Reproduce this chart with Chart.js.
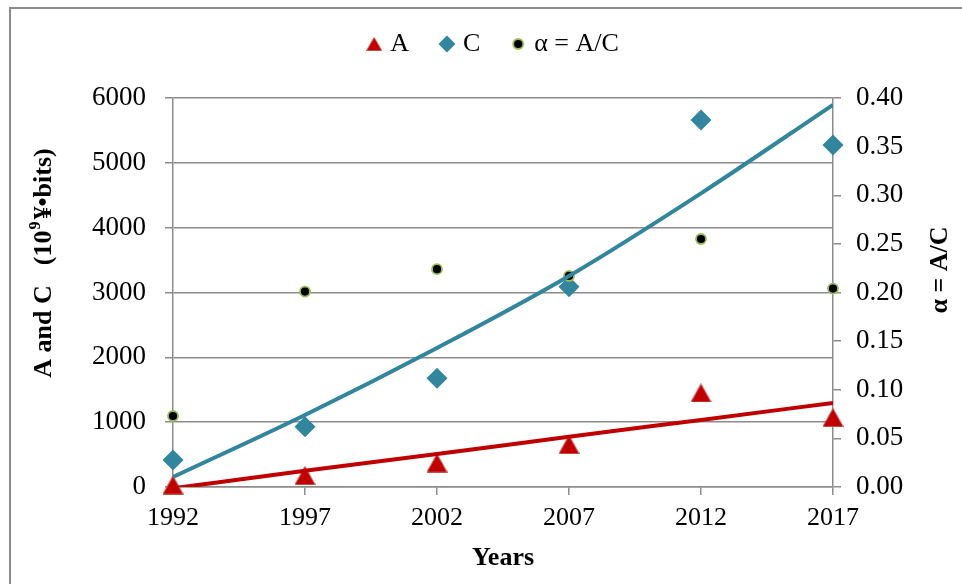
<!DOCTYPE html>
<html>
<head>
<meta charset="utf-8">
<script src="https://cdn.jsdelivr.net/npm/chart.js@4/dist/chart.umd.min.js"></script>
<style>
  html, body { margin: 0; padding: 0; background: #fff; overflow: hidden; }
  canvas { display: block; }
</style>
</head>
<body>
<canvas id="c" width="962" height="584"></canvas>
<script>
// ---- data ----
const years = [1992, 1997, 2002, 2007, 2012, 2017];
const valuesA = [30, 177, 370, 655, 1450, 1072];
const valuesC = [416, 930, 1676, 3090, 5661, 5275];
const valuesAlpha = [0.073, 0.201, 0.224, 0.217, 0.255, 0.204];
const trendA = [-20, 250, 509, 775, 1035, 1296];
const trendC = [154, 1111, 2144, 3255, 4530, 5895];
const leftTicks = [0, 1000, 2000, 3000, 4000, 5000, 6000];
const rightTicks = [0, 0.05, 0.10, 0.15, 0.20, 0.25, 0.30, 0.35, 0.40];
const legendLabels = ['A', 'C', 'α = A/C'];
const xTitle = 'Years';
const leftTitleParts = ['A and C', '(10', '9', '¥•bits)'];
const rightTitle = 'α = A/C';

const RED = '#C00000', TEAL = '#31859C', GRID = '#8c8c8c', DOTRING = '#9BBB59';
const FONT = 'Liberation Serif';

const pts = (arr) => years.map((y, i) => ({ x: y, y: arr[i] }));

function triangleImage(w, h) {
  const c = document.createElement('canvas');
  c.width = w; c.height = h;
  const g = c.getContext('2d');
  g.fillStyle = RED; g.strokeStyle = '#C0504D'; g.lineWidth = 1;
  g.beginPath();
  g.moveTo(w / 2, 0.5); g.lineTo(w - 0.5, h - 0.5); g.lineTo(0.5, h - 0.5); g.closePath();
  g.fill(); g.stroke();
  return c;
}
function marker(kind) {
  const c = document.createElement('canvas');
  const g = c.getContext('2d');
  if (kind === 'tri') {
    return triangleImage(16, 14);
  } else if (kind === 'dia') {
    c.width = 18; c.height = 18;
    g.fillStyle = TEAL; g.beginPath();
    g.moveTo(9, 0.5); g.lineTo(17.5, 9); g.lineTo(9, 17.5); g.lineTo(0.5, 9); g.closePath(); g.fill();
  } else {
    c.width = 14; c.height = 14;
    g.fillStyle = '#000'; g.strokeStyle = DOTRING; g.lineWidth = 1.8;
    g.beginPath(); g.arc(7, 7, 5, 0, Math.PI * 2); g.fill(); g.stroke();
  }
  return c;
}
const legendMarks = [marker('tri'), marker('dia'), marker('dot')];
const plotTriangle = triangleImage(21, 19);

// white page with the outer frame (left and top edges visible, as in the reference)
const framePlugin = {
  id: 'frame',
  beforeDraw(chart) {
    const ctx = chart.ctx;
    ctx.save();
    ctx.fillStyle = '#fff';
    ctx.fillRect(0, 0, chart.width, chart.height);
    ctx.strokeStyle = '#8c8c8c';
    ctx.lineWidth = 2;
    ctx.beginPath();
    ctx.moveTo(10, chart.height + 5);
    ctx.lineTo(10, 8);
    ctx.lineTo(chart.width + 5, 8);
    ctx.stroke();
    ctx.restore();
  }
};

// keep the plot area top where the reference has it
const legendFitPlugin = {
  id: 'legendFit',
  beforeLayout(chart) {
    const lg = chart.legend;
    if (lg && !lg.__patched) {
      const f = lg.fit;
      lg.fit = function () { f.call(this); this.height = 102; };
      lg.__patched = true;
    }
  }
};

const titlesPlugin = {
  id: 'yTitles',
  afterDraw(chart) {
    const ctx = chart.ctx;
    ctx.save();
    ctx.fillStyle = '#000';
    ctx.textBaseline = 'middle';
    const mainFont = 'bold 26px "' + FONT + '"';
    const supFont = 'bold 16px "' + FONT + '"';
    const gap = 20;
    ctx.font = mainFont;
    const w0 = ctx.measureText(leftTitleParts[0]).width;
    const w1 = ctx.measureText(leftTitleParts[1]).width;
    const w3 = ctx.measureText(leftTitleParts[3]).width;
    ctx.font = supFont;
    const w2 = ctx.measureText(leftTitleParts[2]).width + 3;
    const total = w0 + gap + w1 + w2 + w3;
    ctx.translate(44, 263);
    ctx.rotate(-Math.PI / 2);
    let x = -total / 2;
    ctx.textAlign = 'left';
    ctx.font = mainFont;
    ctx.fillText(leftTitleParts[0], x, 0); x += w0 + gap;
    ctx.fillText(leftTitleParts[1], x, 0); x += w1 + 1;
    ctx.font = supFont;
    ctx.fillText(leftTitleParts[2], x, -8); x += w2 - 1;
    ctx.font = mainFont;
    ctx.fillText(leftTitleParts[3], x, 0);
    ctx.restore();
    // right title
    ctx.save();
    ctx.fillStyle = '#000';
    ctx.textBaseline = 'middle';
    ctx.textAlign = 'center';
    ctx.font = mainFont;
    ctx.translate(940, 270);
    ctx.rotate(-Math.PI / 2);
    ctx.fillText(rightTitle, 0, 0);
    ctx.restore();
  }
};

new Chart(document.getElementById('c'), {
  type: 'scatter',
  data: {
    datasets: [
      { label: 'trendC', data: pts(trendC), type: 'line', yAxisID: 'y', borderColor: TEAL, borderWidth: 4,
        pointRadius: 0, cubicInterpolationMode: 'monotone', order: 0, showLine: true },
      { label: 'trendA', data: pts(trendA), type: 'line', yAxisID: 'y', borderColor: RED, borderWidth: 4,
        pointRadius: 0, cubicInterpolationMode: 'monotone', order: 1, showLine: true },
      { label: legendLabels[2], data: pts(valuesAlpha), yAxisID: 'y2', pointStyle: 'circle', pointRadius: 5,
        backgroundColor: '#000', borderColor: DOTRING, borderWidth: 1.8, order: 2, clip: false },
      { label: legendLabels[1], data: pts(valuesC), yAxisID: 'y', pointStyle: 'rectRot', pointRadius: 10.5,
        backgroundColor: TEAL, borderColor: TEAL, borderWidth: 0, order: 3, clip: false },
      { label: legendLabels[0], data: pts(valuesA), yAxisID: 'y', pointStyle: plotTriangle, pointRadius: 11,
        backgroundColor: RED, borderColor: '#C0504D', borderWidth: 1, order: 4, clip: false }
    ]
  },
  options: {
    responsive: false,
    animation: false,
    events: [],
    layout: { padding: { left: 28, right: 0, top: -4, bottom: 0 } },
    plugins: {
      tooltip: { enabled: false },
      legend: {
        position: 'top',
        labels: {
          usePointStyle: true,
          pointStyleWidth: 6,
          padding: 35,
          color: '#000',
          font: { family: FONT, size: 26 },
          generateLabels: () => legendLabels.map((t, i) => ({
            text: t, pointStyle: legendMarks[i], fillStyle: '#000', strokeStyle: 'transparent',
            lineWidth: 0, hidden: false, datasetIndex: 4 - i, fontColor: '#000'
          }))
        }
      }
    },
    scales: {
      x: {
        type: 'linear', min: years[0], max: years[years.length - 1],
        afterBuildTicks: (s) => { s.ticks = years.map(v => ({ value: v })); },
        afterFit: (s) => { s.height = 97; },
        ticks: { callback: (v) => String(v), color: '#000', font: { family: FONT, size: 26 }, padding: 8, maxRotation: 0 },
        grid: { drawOnChartArea: false, drawTicks: true, tickLength: 8, color: GRID, lineWidth: 1.5 },
        border: { display: true, color: GRID, width: 1.5 },
        title: { display: true, text: xTitle, color: '#000', font: { family: FONT, size: 26, weight: 'bold' }, padding: { top: 4, bottom: 10 } }
      },
      y: {
        position: 'left', min: 0, max: 6000,
        afterBuildTicks: (s) => { s.ticks = leftTicks.map(v => ({ value: v })); },
        afterFit: (s) => { s.width = 145; },
        ticks: { color: '#000', font: { family: FONT, size: 27 }, padding: 19, callback: (v) => String(v) },
        grid: { drawOnChartArea: true, drawTicks: true, tickLength: 8, color: GRID, lineWidth: 1.5 },
        border: { display: true, color: GRID, width: 1.5 }
      },
      y2: {
        position: 'right', min: 0, max: 0.4,
        afterBuildTicks: (s) => { s.ticks = rightTicks.map(v => ({ value: v })); },
        afterFit: (s) => { s.width = 129; },
        ticks: { color: '#000', font: { family: FONT, size: 27 }, padding: 15, callback: (v) => v.toFixed(2) },
        grid: { drawOnChartArea: false, drawTicks: true, tickLength: 8, color: GRID, lineWidth: 1.5 },
        border: { display: true, color: GRID, width: 1.5 }
      }
    }
  },
  plugins: [framePlugin, legendFitPlugin, titlesPlugin]
});
</script>
</body>
</html>
